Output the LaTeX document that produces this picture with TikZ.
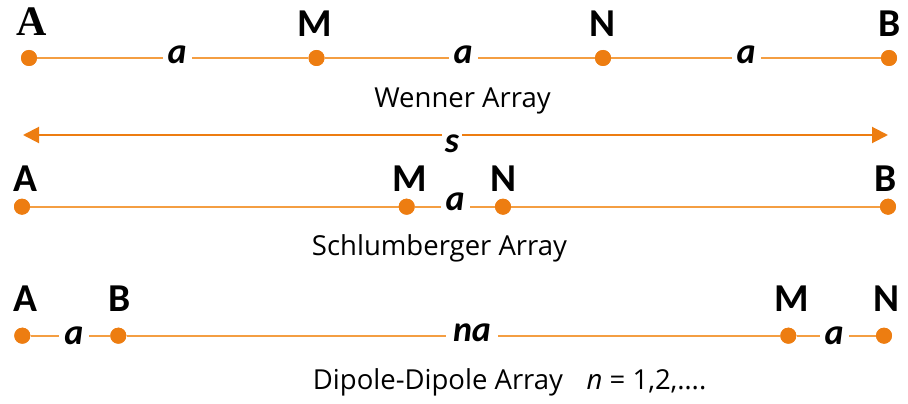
\documentclass[tikz,border=0pt]{standalone}
\usepackage{fontspec}
\setmainfont{Carlito}
\newfontfamily\serifA{Liberation Serif}
\newfontfamily\capfont{Open Sans}
\usetikzlibrary{arrows.meta}
\definecolor{dotc}{RGB}{237,125,17}
\definecolor{linec}{RGB}{244,158,66}
\tikzset{
  elec/.style={circle,fill=dotc,inner sep=0pt,minimum size=16pt},
  wire/.style={draw=linec,line width=2pt},
  lab/.style={anchor=base,inner sep=0pt,font=\fontsize{39.5}{40}\selectfont\bfseries},
  dist/.style={anchor=base,fill=white,inner xsep=5pt,inner ysep=2pt,font=\fontsize{36}{40}\selectfont\bfseries\itshape},
  captxt/.style={anchor=base,inner sep=0pt,font=\fontsize{27.5}{30}\capfont},
  spanarrow/.style={draw=dotc,line width=2pt,-{Triangle[length=16pt,width=16pt]}}
}
\begin{document}
\begin{tikzpicture}[x=1pt,y=-1pt]
\useasboundingbox (0,0) rectangle (908,404);
% Wenner
\node[elec] (wA) at (29,58) {};
\node[elec] (wM) at (316.5,58) {};
\node[elec] (wN) at (603,58) {};
\node[elec] (wB) at (889,58) {};
\draw[wire] (wA) -- (wM) -- (wN) -- (wB);
\node[elec] at (wA) {};
\node[elec] at (wM) {};
\node[elec] at (wN) {};
\node[elec] at (wB) {};
\node[dist] (wa1) at (177,63.5) {a};
\node[dist] (wa2) at (463,63.5) {a};
\node[dist] (wa3) at (746,63.5) {a};
\node[lab,font=\fontsize{42}{44}\serifA\bfseries] (wlA) at (32,36) {A};
\node[lab] (wlM) at (315,36.5) {M};
\node[lab] (wlN) at (602.5,36.5) {N};
\node[lab] (wlB) at (890,36.5) {B};
\node[captxt] (wcap) at (462.5,107.7) {Wenner Array};
% spacing arrow
\coordinate (sL) at (23,135);
\coordinate (sR) at (888,135);
\node[anchor=base,inner xsep=3pt,inner ysep=0pt,font=\fontsize{36}{40}\selectfont\bfseries\itshape] (s) at (452,152) {s};
\draw[spanarrow] (sL -| s.west) -- (sL);
\draw[spanarrow] (sR -| s.east) -- (sR);
% Schlumberger
\node[elec] (sA) at (22,206.7) {};
\node[elec] (sM) at (406.7,206.7) {};
\node[elec] (sN) at (503,206.7) {};
\node[elec] (sB) at (888,206.7) {};
\draw[wire] (sA) -- (sM) -- (sN) -- (sB);
\node[elec] at (sA) {};
\node[elec] at (sM) {};
\node[elec] at (sN) {};
\node[elec] at (sB) {};
\node[dist] (sa) at (455,210) {a};
\node[lab] (slA) at (25,191.7) {A};
\node[lab] (slM) at (410,191.7) {M};
\node[lab] (slN) at (504,191.7) {N};
\node[lab] (slB) at (886,191.7) {B};
\node[captxt] (scap) at (439.5,255.7) {Schlumberger Array};
% Dipole-Dipole
\node[elec] (dA) at (22.3,335.7) {};
\node[elec] (dB) at (118.3,335.7) {};
\node[elec] (dM) at (788.3,335.7) {};
\node[elec] (dN) at (884,335.7) {};
\draw[wire] (dA) -- (dB) -- (dM) -- (dN);
\node[elec] at (dA) {};
\node[elec] at (dB) {};
\node[elec] at (dM) {};
\node[elec] at (dN) {};
\node[dist] (da1) at (74,344) {a};
\node[dist,inner xsep=7pt] (dna) at (472,341.7) {na};
\node[dist] (da2) at (834,344) {a};
\node[lab] (dlA) at (25,311.7) {A};
\node[lab] (dlB) at (120,311.7) {B};
\node[lab] (dlM) at (792,311.7) {M};
\node[lab] (dlN) at (886,311.7) {N};
\node[captxt,anchor=base west] (dcap) at (312.7,389) {Dipole-Dipole Array\hspace{0.6em} \textit{n} = 1,2,….};
\end{tikzpicture}
\end{document}
